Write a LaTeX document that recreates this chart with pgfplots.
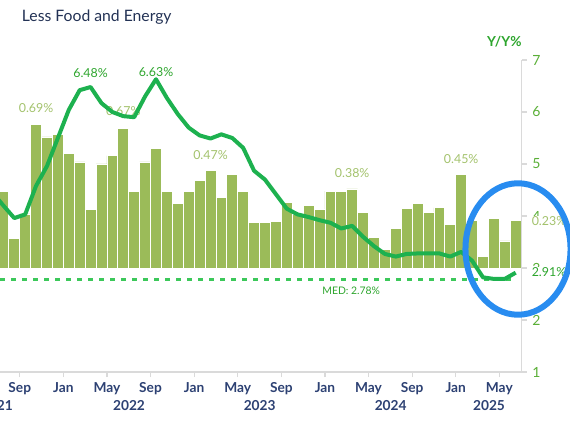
\documentclass[border=0pt]{standalone}
\usepackage{fontspec}
\setmainfont{Lato}
\usepackage{pgfplots}
\usepackage{pgfplotstable}
\pgfplotsset{compat=1.18}

\definecolor{barGreen}{RGB}{155,187,89}
\definecolor{barLabel}{RGB}{163,194,108}
\definecolor{lineGreen}{RGB}{29,177,79}
\definecolor{dashGreen}{RGB}{60,200,90}
\definecolor{labelGreen}{RGB}{45,165,45}
\definecolor{tickGreen}{RGB}{90,175,55}
\definecolor{tickNavy}{RGB}{45,65,115}
\definecolor{titleNavy}{RGB}{35,50,85}
\definecolor{axisGray}{RGB}{218,218,218}
\definecolor{ringBlue}{RGB}{40,140,240}

% month index, Jan 2022 = 0; mom = core m/m %, yoy = core y/y %
\pgfplotstableread{
m   mom    yoy
-7  0.80   4.45
-6  0.37   4.20
-5  0.14   3.96
-4  0.26   4.03
-3  0.69   4.58
-2  0.63   4.96
-1  0.64   5.50
0   0.55   6.04
1   0.51   6.42
2   0.28   6.48
3   0.50   6.17
4   0.54   6.00
5   0.67   5.92
6   0.37   5.90
7   0.51   6.30
8   0.575  6.63
9   0.37   6.27
10  0.31   5.96
11  0.37   5.70
12  0.42   5.55
13  0.47   5.49
14  0.34   5.57
15  0.45   5.50
16  0.37   5.31
17  0.22   4.87
18  0.22   4.70
19  0.225  4.42
20  0.315  4.14
21  0.26   4.03
22  0.30   3.98
23  0.28   3.92
24  0.37   3.87
25  0.37   3.76
26  0.38   3.81
27  0.265  3.60
28  0.145  3.42
29  0.09   3.27
30  0.19   3.22
31  0.285  3.27
32  0.31   3.28
33  0.265  3.28
34  0.29   3.28
35  0.21   3.22
36  0.45   3.31
37  0.23   3.14
38  0.055  2.82
39  0.24   2.79
40  0.13   2.79
41  0.23   2.91
}\coreData

\pgfplotsset{
  frame/.style={
    at={(0,0)}, anchor=south west, scale only axis,
    width=391.3pt, height=234pt,
    xmin=-6.31, xmax=41.555,
    clip mode=individual,
  },
}

\begin{document}
\begin{tikzpicture}
\useasboundingbox (0,-50.25pt) rectangle (427.5pt,279pt);
\begin{scope}
\clip (0,-50.25pt) rectangle (427.5pt,279pt);

% bars, m/m
\begin{axis}[frame, ymin=-0.5, ymax=1, hide axis]
  \addplot[ybar, bar width=1, fill=barGreen, draw=white, line width=0.6pt]
    table[x=m, y=mom] {\coreData};
  \begin{scope}[every node/.style={text=barLabel, font=\fontsize{9.3}{11}\selectfont}]
    \node at (axis cs:-3,0.768) {0.69\%};
    \node at (axis cs:5,0.754) {0.67\%};
    \node at (axis cs:13,0.544) {0.47\%};
    \node at (axis cs:26,0.457) {0.38\%};
    \node at (axis cs:36,0.524) {0.45\%};
  \end{scope}
\end{axis}

% line, y/y
\begin{axis}[frame, ymin=1, ymax=7,
    axis x line*=bottom, axis y line*=right,
    axis line style={draw=axisGray, line width=0.9pt},
    tick align=outside, major tick length=3.75pt,
    tick style={draw=axisGray, line width=0.9pt},
    xtick={-4.5,-0.5,...,39.5},
    xticklabels={Sep,Jan,May,Sep,Jan,May,Sep,Jan,May,Sep,Jan,May},
    ytick={1,...,7},
    /pgf/number format/assume math mode=true,
    xticklabel style={font=\fontsize{10.3}{12}\selectfont\bfseries, text=tickNavy, inner sep=0pt, yshift=-4pt},
    yticklabel style={font=\fontsize{10.5}{12}\selectfont, text=tickGreen, inner sep=0pt, xshift=4pt},
  ]
  \addplot[dashGreen, line width=1.6pt, dash pattern=on 3.75pt off 4.5pt]
    coordinates {(-6.31,2.78) (40.95,2.78)};
  \addplot[lineGreen, line width=3pt, line join=round, mark=none]
    table[x=m, y=yoy] {\coreData};
  \begin{scope}[every node/.style={font=\fontsize{9.3}{11}\selectfont, text=labelGreen}]
    \node at (axis cs:2,6.75) {6.48\%};
    \node at (axis cs:8,6.77) {6.63\%};
  \end{scope}
\end{axis}

% pixel frame: x right, y down, origin at top-left of the image
\begin{scope}[x=0.75pt, y=-0.75pt, yshift=279pt]
  \node[anchor=base west, text=titleNavy, font=\fontsize{11.8}{14}\selectfont, inner sep=0pt]
    at (21.7,21.7) {Less Food and Energy};
  \node[text=labelGreen, font=\fontsize{10.3}{12}\selectfont\bfseries] at (504.3,41.7) {Y/Y\%};
  \node[text=labelGreen, font=\fontsize{7.8}{9}\selectfont] at (351.2,290.5) {MED: 2.78\%};
  % last values, set over the right tick labels
  \node[text=barLabel, fill=white, inner sep=0.6pt, font=\fontsize{9.3}{11}\selectfont] at (549,221.5) {0.23\%};
  \node[text=labelGreen, fill=white, inner sep=0.6pt, font=\fontsize{9.3}{11}\selectfont] at (549,272.5) {2.91\%};
  \begin{scope}[every node/.style={text=tickNavy, font=\fontsize{10.3}{12}\selectfont\bfseries}]
    \node at (-3,406) {2021};
    \node at (129,406) {2022};
    \node at (259.7,406) {2023};
    \node at (390.7,406) {2024};
    \node at (489,406) {2025};
  \end{scope}
  \draw[ringBlue, line width=4.5pt] (518,249) ellipse[x radius=39.4pt, y radius=49.3pt];
\end{scope}
\end{scope}
\end{tikzpicture}
\end{document}
